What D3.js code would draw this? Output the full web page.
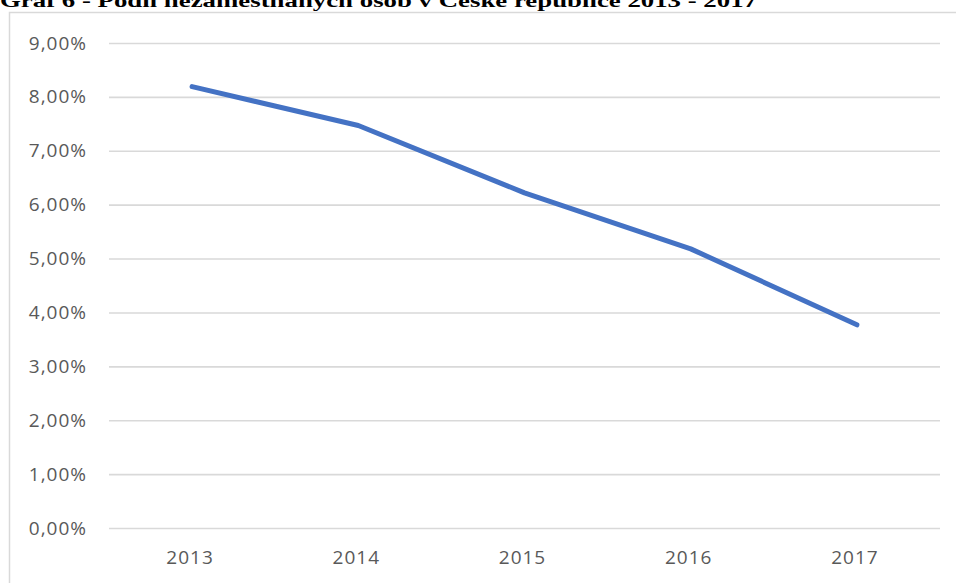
<!DOCTYPE html>
<html><head><meta charset="utf-8">
<script src="https://cdn.jsdelivr.net/npm/d3@7"></script>
<style>body{margin:0;background:#fff}svg{display:block}</style>
</head><body>
<svg id="c" width="956" height="583"></svg>
<script>
const title = "Graf 6 - Podíl nezaměstnaných osob v České republice 2013 - 2017";
const years = ["2013","2014","2015","2016","2017"];
const values = [8.19, 7.47, 6.22, 5.18, 3.77];
const yTicks = [0,1,2,3,4,5,6,7,8,9];

const svg = d3.select("#c");
const W = 956, H = 583;
const mLeft = 109, mRight = 940, mTop = 43, mBottom = 528;

svg.append("rect").attr("x",9.5).attr("y",12.5).attr("width",W+10).attr("height",H)
  .attr("fill","#fff").attr("stroke","#d9d9d9").attr("stroke-width",1.5);

svg.append("text").attr("x",0).attr("y",7)
  .attr("font-family","'Liberation Serif','Times New Roman',serif")
  .attr("font-weight","bold").attr("font-size",18)
  .attr("textLength",757).attr("lengthAdjust","spacingAndGlyphs")
  .text(title);

const x = d3.scaleBand().domain(years).range([mLeft,mRight]);
const y = d3.scaleLinear().domain([0,9]).range([mBottom,mTop]);

const fmt = v => d3.format(".2f")(v).replace(".",",") + "%";

const gy = svg.append("g").attr("transform",`translate(${mLeft},0)`)
  .call(d3.axisLeft(y).tickValues(yTicks).tickFormat(fmt).tickSize(-(mRight-mLeft)).tickPadding(22));
gy.select(".domain").remove();
gy.selectAll(".tick line").attr("stroke","#d9d9d9").attr("stroke-width",1.6);
gy.selectAll(".tick text").attr("fill","#595959").attr("font-size",19)
  .attr("letter-spacing","1px")
  .attr("font-family","'Open Sans',sans-serif");

const gx = svg.append("g").attr("transform",`translate(0,${mBottom})`)
  .call(d3.axisBottom(x).tickSize(0).tickPadding(23));
gx.select(".domain").remove();
gx.selectAll(".tick text").attr("fill","#595959").attr("font-size",19)
  .attr("letter-spacing","1px").attr("dx","-2")
  .attr("font-family","'Open Sans',sans-serif");

const line = d3.line().x((d,i)=>x(years[i])+x.bandwidth()/2).y(d=>y(d));
svg.append("path").datum(values).attr("d",line).attr("fill","none")
  .attr("stroke","#4472C4").attr("stroke-width",5)
  .attr("stroke-linecap","round").attr("stroke-linejoin","round");
</script>
</body></html>
